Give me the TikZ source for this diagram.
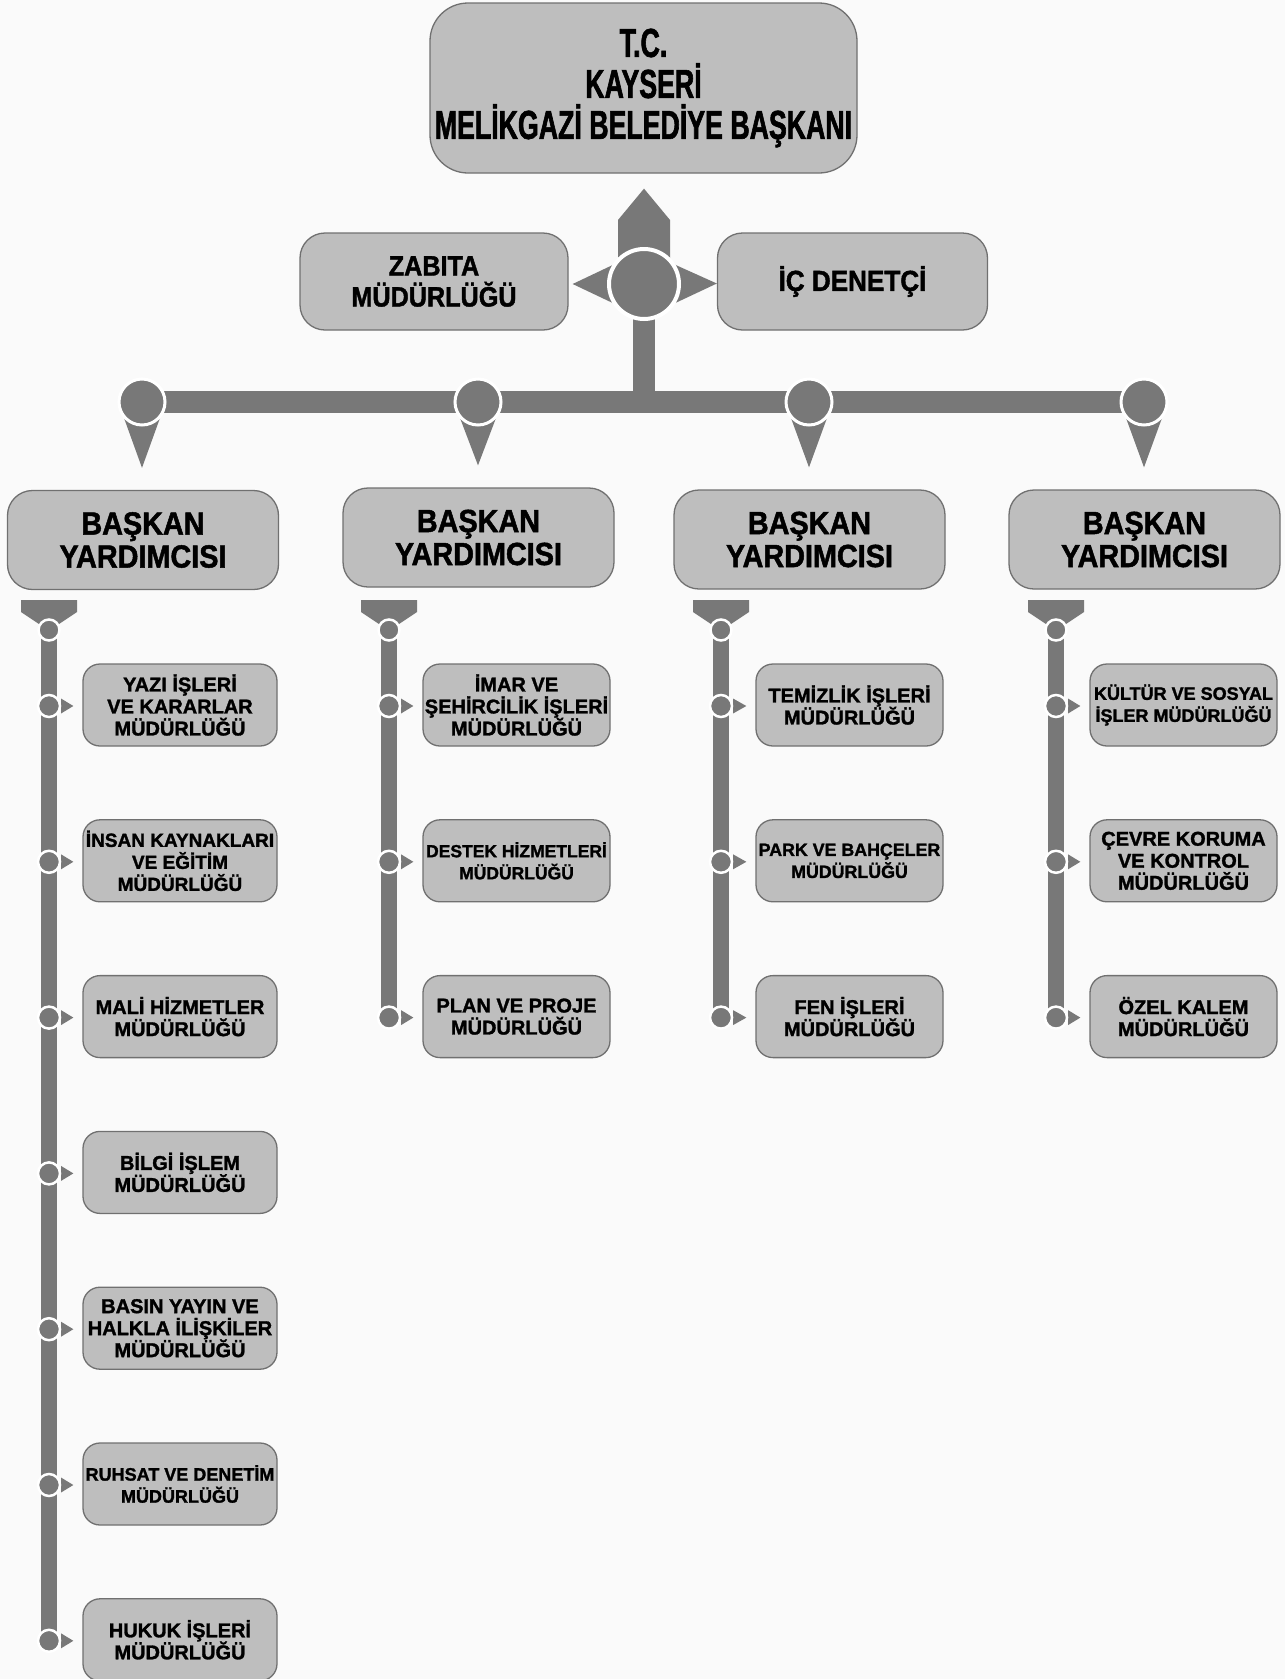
\documentclass[tikz,border=0pt]{standalone}
\usepackage{fontspec}
\setmainfont{Liberation Sans}[BoldFeatures={FakeBold=1.5}]
\newfontfamily\topfont[FakeStretch=0.66,BoldFeatures={FakeBold=1.5}]{Liberation Sans}
\newfontfamily\midfont[FakeStretch=0.9,BoldFeatures={FakeBold=1.5}]{Liberation Sans}
\usetikzlibrary{calc}
\definecolor{bgc}{HTML}{FAFAFA}
\definecolor{boxfill}{HTML}{BEBEBE}
\definecolor{boxline}{HTML}{707070}
\definecolor{conn}{HTML}{787878}
\pgfdeclarelayer{back}
\pgfdeclarelayer{links}
\pgfsetlayers{back,links,main}
\begin{document}
\begin{tikzpicture}[x=1pt,y=-1pt,
  rbox/.style={draw=boxline,line width=1.3pt,fill=boxfill,rounded corners=#1,align=center,inner sep=0pt,text=black},
  rbox/.default=18,
  ball/.style={circle,fill=conn,draw=white,line width=#1,inner sep=0pt},
  ball/.default=2.5pt,
  childbox/.style={rbox=17,minimum width=#1,minimum height=82},
]
\begin{pgfonlayer}{back}
\fill[bgc] (0,0) rectangle (1285,1679);
\end{pgfonlayer}
\useasboundingbox (0,0) rectangle (1285,1679);

% top level
\node[rbox=38,minimum width=427,minimum height=170,font=\topfont\fontsize{40.5}{41}\selectfont\bfseries] (top) at (643.5,88) {T.C.\\KAYSERİ\\MELİKGAZİ BELEDİYE BAŞKANI};
\node[rbox=25,minimum width=268,minimum height=97,font=\midfont\fontsize{28}{31}\selectfont\bfseries] (zab) at (434,281.5) {ZABITA\\MÜDÜRLÜĞÜ};
\node[rbox=25,minimum width=270,minimum height=97,font=\midfont\fontsize{29}{31}\selectfont\bfseries] (ic) at (852.5,281.5) {İÇ DENETÇİ};
\node[ball=4pt,minimum size=70] (hub) at (644,284) {};

% bus circles and vice presidents
\foreach \x [count=\i] in {142,478,809,1144}
  \node[ball=3pt,minimum size=46] (c\i) at (\x,402) {};
\foreach \x/\y [count=\i] in {143/540,478.5/537.5,809.5/539.5,1144.5/539.5}
  \node[rbox=25,minimum width=271,minimum height=99,font=\midfont\fontsize{32}{33}\selectfont\bfseries] (by\i) at (\x,\y) {BAŞKAN\\YARDIMCISI};

% column tops
\foreach \x [count=\i] in {49,389,721,1056} {
  \coordinate (t\i) at (\x,600);
  \node[ball=2.5pt,minimum size=21] (h\i) at (\x,630) {};
}

% column 1
\foreach \t/\fs [count=\j] in {
  {YAZI İŞLERİ\\VE KARARLAR\\MÜDÜRLÜĞÜ}/20,
  {İNSAN KAYNAKLARI\\VE EĞİTİM\\MÜDÜRLÜĞÜ}/19,
  {MALİ HİZMETLER\\MÜDÜRLÜĞÜ}/20,
  {BİLGİ İŞLEM\\MÜDÜRLÜĞÜ}/20,
  {BASIN YAYIN VE\\HALKLA İLİŞKİLER\\MÜDÜRLÜĞÜ}/20,
  {RUHSAT VE DENETİM\\MÜDÜRLÜĞÜ}/18,
  {HUKUK İŞLERİ\\MÜDÜRLÜĞÜ}/20} {
  \pgfmathsetmacro\ry{705+155.8*(\j-1)}
  \node[ball=2.5pt,minimum size=22] (k1\j) at (49,\ry+1) {};
  \node[childbox=194,font=\fontsize{\fs}{22}\selectfont\bfseries] (b1\j) at (180,\ry) {\t};
}
% column 2
\foreach \t/\fs [count=\j] in {
  {İMAR VE\\ŞEHİRCİLİK İŞLERİ\\MÜDÜRLÜĞÜ}/20,
  {DESTEK HİZMETLERİ\\MÜDÜRLÜĞÜ}/17.5,
  {PLAN VE PROJE\\MÜDÜRLÜĞÜ}/20} {
  \pgfmathsetmacro\ry{705+155.8*(\j-1)}
  \node[ball=2.5pt,minimum size=22] (k2\j) at (389,\ry+1) {};
  \node[childbox=187,font=\fontsize{\fs}{22}\selectfont\bfseries] (b2\j) at (516.5,\ry) {\t};
}
% column 3
\foreach \t/\fs [count=\j] in {
  {TEMİZLİK İŞLERİ\\MÜDÜRLÜĞÜ}/20,
  {PARK VE BAHÇELER\\MÜDÜRLÜĞÜ}/17.8,
  {FEN İŞLERİ\\MÜDÜRLÜĞÜ}/20} {
  \pgfmathsetmacro\ry{705+155.8*(\j-1)}
  \node[ball=2.5pt,minimum size=22] (k3\j) at (721,\ry+1) {};
  \node[childbox=187,font=\fontsize{\fs}{22}\selectfont\bfseries] (b3\j) at (849.5,\ry) {\t};
}
% column 4
\foreach \t/\fs [count=\j] in {
  {KÜLTÜR VE SOSYAL\\İŞLER MÜDÜRLÜĞÜ}/18,
  {ÇEVRE KORUMA\\VE KONTROL\\MÜDÜRLÜĞÜ}/20,
  {ÖZEL KALEM\\MÜDÜRLÜĞÜ}/20} {
  \pgfmathsetmacro\ry{705+155.8*(\j-1)}
  \node[ball=2.5pt,minimum size=22] (k4\j) at (1056,\ry+1) {};
  \node[childbox=187,font=\fontsize{\fs}{22}\selectfont\bfseries] (b4\j) at (1183.5,\ry) {\t};
}

% connectors
\begin{pgfonlayer}{links}
  \fill[conn] ($(hub.center)+(-26,0)$) -- ($(hub.center)+(-26,-64)$) -- ($(top.south)+(0.5,15)$) -- ($(hub.center)+(26,-64)$) -- ($(hub.center)+(26,0)$) -- cycle;
  \fill[conn] ($(hub.center)+(-25,-22)$) -- ($(zab.east)+(4,2.5)$) -- ($(hub.center)+(-25,22)$) -- cycle;
  \fill[conn] ($(hub.center)+(25,-22)$) -- ($(ic.west)+(0,2)$) -- ($(hub.center)+(25,22)$) -- cycle;
  \draw[conn,line width=22pt] (hub.center) -- (hub.center |- c1.center);
  \draw[conn,line width=22pt] (c1.center) -- (c4.center);
  \foreach \i in {1,...,4}
    \fill[conn] ($(c\i.center)+(-18,16)$) -- ($(c\i.center)+(18,16)$) -- ($(c\i.center |- by\i.north)+(0,-22)$) -- cycle;
  \foreach \i/\n in {1/7,2/3,3/3,4/3} {
    \fill[conn] ($(t\i)+(-28,0)$) -- ($(t\i)+(28,0)$) -- ($(t\i)+(28,12)$) -- ($(t\i)+(10,24)$) -- ($(t\i)+(-10,24)$) -- ($(t\i)+(-28,12)$) -- cycle;
    \draw[conn,line width=16pt] (t\i) -- (k\i\n.center);
    \foreach \j in {1,...,\n}
      \fill[conn] ($(k\i\j.center)+(12,-7.5)$) -- ($(k\i\j.center)+(12,7.5)$) -- ($(k\i\j.center -| b\i\j.west)+(-9,0)$) -- cycle;
  }
\end{pgfonlayer}
\end{tikzpicture}
\end{document}
